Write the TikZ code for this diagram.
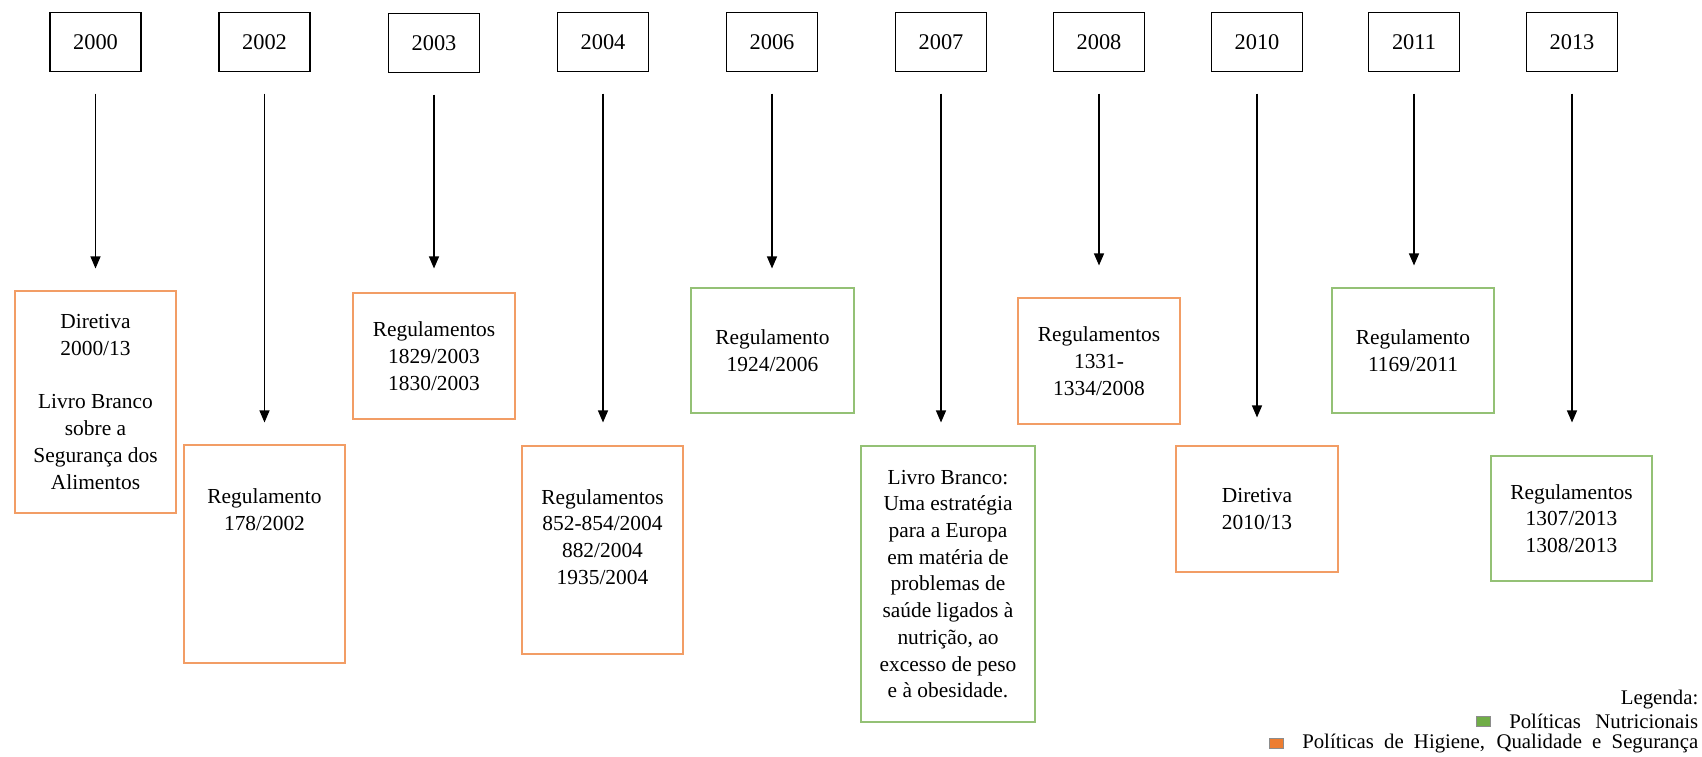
\documentclass[tikz,border=0pt]{standalone}
\usepackage{fontspec}
\setmainfont{Liberation Serif}
\usetikzlibrary{arrows.meta,positioning}

\definecolor{verde}{RGB}{112,173,71}
\definecolor{laranja}{RGB}{237,125,49}

\tikzset{every picture/.style={line width=0.75pt}}
\tikzset{
  ano/.style={draw, line width=0.7pt, minimum width=45.5pt, minimum height=29.5pt, inner sep=0pt, font=\fontsize{11.2}{13.4}\selectfont},
  caixa/.style={draw=#1!75, line width=0.55pt, inner sep=0pt, align=center, font=\fontsize{10.7}{13.35}\selectfont},
  texto/.style={inner sep=0pt, align=center, font=\fontsize{10.7}{13.35}\selectfont},
  seta/.style={line width=0.6pt, -{Triangle[width=5pt,length=6pt]}, shorten <=10.75pt},
  legenda/.style={inner sep=0pt, anchor=east, font=\fontsize{10.4}{12}\selectfont},
  quadrado/.style={draw=black!45, line width=0.4pt, inner sep=0pt, minimum width=7pt, minimum height=5pt},
}

\begin{document}
\begin{tikzpicture}[x=0.5pt,y=0.5pt,yscale=-1,xscale=1]
	\useasboundingbox (0,0) rectangle (1702,756);
	
	%Shape: Rectangle (anos)
	\node[ano] (a2000) at (95.5,42) {2000};
	\node[ano] (a2002) at (264.5,42) {2002};
	\node[ano] (a2003) at (434,43) {2003};
	\node[ano] (a2004) at (603,42) {2004};
	\node[ano] (a2006) at (772,42) {2006};
	\node[ano] (a2007) at (941,42) {2007};
	\node[ano] (a2008) at (1099,42) {2008};
	\node[ano] (a2010) at (1257,42) {2010};
	\node[ano] (a2011) at (1414,42) {2011};
	\node[ano] (a2013) at (1572,42) {2013};
	
	%Shape: Rectangle (documentos)
	\node[caixa=laranja, minimum width=80.5pt, minimum height=111pt] (r2000) at (95.5,402) {Diretiva\\2000/13\\[13.35pt]Livro Branco\\sobre a\\Segurança dos\\Alimentos};
	\node[caixa=laranja, minimum width=80.5pt, minimum height=109pt] (r2002) at (264.5,554) {};
	\node[caixa=laranja, minimum width=81pt, minimum height=63pt] (r2003) at (434,356) {Regulamentos\\1829/2003\\1830/2003};
	\node[caixa=laranja, minimum width=80.5pt, minimum height=104pt] (r2004) at (602.5,550) {};
	\node[caixa=verde, minimum width=81.5pt, minimum height=62.5pt] (r2006) at (772.5,350.5) {Regulamento\\1924/2006};
	\node[caixa=verde, minimum width=87pt, minimum height=138pt] (r2007) at (948,584) {Livro Branco:\\Uma estratégia\\para a Europa\\em matéria de\\problemas de\\saúde ligados à\\nutrição, ao\\excesso de peso\\e à obesidade.};
	\node[caixa=laranja, minimum width=81pt, minimum height=63pt] (r2008) at (1099,361) {Regulamentos\\1331-\\1334/2008};
	\node[caixa=laranja, minimum width=81pt, minimum height=63pt] (r2010) at (1257,509) {Diretiva\\2010/13};
	\node[caixa=verde, minimum width=81pt, minimum height=62.5pt] (r2011) at (1413,350.5) {Regulamento\\1169/2011};
	\node[caixa=verde, minimum width=80.5pt, minimum height=62.5pt] (r2013) at (1571.5,518.5) {Regulamentos\\1307/2013\\1308/2013};
	
	% Text Node
	\node[texto] (t2002) at (264.5,510) {Regulamento\\178/2002};
	% Text Node
	\node[texto] (t2004) at (602.5,537) {Regulamentos\\852-854/2004\\882/2004\\1935/2004};
	
	%Straight Lines
	\draw[seta, shorten >=11pt] (a2000) -- (a2000 |- r2000.north);
	\draw[seta, shorten >=11pt] (a2002) -- (a2002 |- r2002.north);
	\draw[seta, shorten >=12pt] (a2003) -- (a2003 |- r2003.north);
	\draw[seta, shorten >=11.5pt] (a2004) -- (a2004 |- r2004.north);
	\draw[seta, shorten >=9.5pt] (a2006) -- (a2006 |- r2006.north);
	\draw[seta, shorten >=11.5pt] (a2007) -- (a2007 |- r2007.north);
	\draw[seta, shorten >=16pt] (a2008) -- (a2008 |- r2008.north);
	\draw[seta, shorten >=14pt] (a2010) -- (a2010 |- r2010.north);
	\draw[seta, shorten >=11pt] (a2011) -- (a2011 |- r2011.north);
	\draw[seta, shorten >=16.5pt] (a2013) -- (a2013 |- r2013.north);
	
	% Text Node (legenda)
	\node[legenda] (leg) at (1699,700) {Legenda:};
	\node[legenda] (lnut) at (1699,721) {\makebox[94.5pt][s]{Políticas Nutricionais}};
	\node[legenda] (lhig) at (1699,743) {\makebox[198pt][s]{Políticas de Higiene, Qualidade e Segurança}};
	%Shape: Square
	\node[quadrado, fill=verde, left=9pt of lnut] (qnut) {};
	\node[quadrado, fill=laranja, left=9pt of lhig] (qhig) {};
	
\end{tikzpicture}
\end{document}
